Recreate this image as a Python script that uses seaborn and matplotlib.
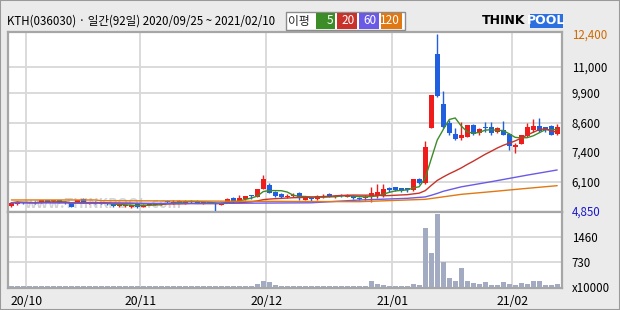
import numpy as np
import pandas as pd
import matplotlib
matplotlib.use("Agg")
import matplotlib.pyplot as plt
import seaborn as sns
from matplotlib.patches import Rectangle

sns.set_theme(style="white")
plt.rcParams['font.family'] = ['Noto Sans CJK KR', 'DejaVu Sans']

# ---------------- data ----------------
title = "KTH(036030) · 일간(92일) 2020/09/25 ~ 2021/02/10"

opens = [5080, 5130, 5220, 5210, 5230, 5200, 5300, 5260, 5320, 5250,
         5200, 5200, 5380, 5200, 5240, 5200, 5150, 5140, 5050, 5060,
         5010, 5130, 5030, 5120, 5110, 5150, 5260, 5150, 5190, 5180,
         5260, 5280, 5190, 5220, 5200, 5110, 5200, 5390, 5270, 5350,
         5500, 5460, 5790, 5960, 5670, 5560, 5430, 5510, 5600, 5320,
         5380, 5350, 5460, 5570, 5460, 5530, 5460, 5500, 5400, 5420,
         5460, 5490, 5500, 5850, 5860, 5820, 5820, 5750, 6200, 6030,
         8400, 11550, 9400, 8610, 8130, 7980, 8020, 8500, 8160, 8420,
         8420, 8230, 8300, 8130, 7600, 7690, 8060, 8300, 8490, 8420,
         8480, 8120]
highs = [5250, 5280, 5250, 5240, 5260, 5330, 5330, 5300, 5340, 5280,
         5230, 5320, 5420, 5240, 5260, 5230, 5180, 5160, 5150, 5120,
         5120, 5150, 5140, 5160, 5170, 5180, 5320, 5300, 5300, 5320,
         5320, 5300, 5230, 5250, 5230, 5220, 5420, 5460, 5530, 5500,
         5530, 5800, 6390, 6030, 5700, 5600, 5560, 5600, 5670, 5480,
         5430, 5520, 5580, 5600, 5530, 5560, 5560, 5530, 5430, 5520,
         5890, 6000, 6000, 5890, 5890, 5850, 5850, 6230, 6240, 7840,
         9800, 12400, 9970, 8730, 8370, 8630, 8520, 8560, 8410, 8650,
         8640, 8420, 8690, 8160, 7740, 8090, 8590, 8770, 8810, 8450,
         8510, 8560]
lows = [5030, 5100, 5150, 5170, 5150, 5180, 5220, 5230, 5180, 5150,
        5020, 5180, 5170, 5160, 5150, 5130, 5100, 5030, 5030, 5040,
        4990, 4990, 5010, 5100, 5100, 5120, 5200, 5130, 5170, 5160,
        5200, 5170, 5160, 5180, 4850, 5090, 5180, 5200, 5250, 5330,
        5350, 5430, 5790, 5600, 5460, 5420, 5390, 5430, 5320, 5300,
        5290, 5330, 5390, 5440, 5420, 5450, 5440, 5370, 5330, 5320,
        5250, 5390, 5460, 5670, 5720, 5680, 5680, 5720, 6000, 6000,
        8400, 9700, 8400, 8090, 7880, 7880, 7990, 8090, 8090, 8220,
        8090, 8160, 8090, 7450, 7340, 7690, 8010, 8240, 8240, 8230,
        8090, 8090]
closes = [5200, 5250, 5200, 5190, 5170, 5300, 5250, 5270, 5200, 5170,
          5040, 5300, 5200, 5210, 5170, 5150, 5140, 5050, 5130, 5100,
          5100, 5010, 5120, 5140, 5150, 5160, 5240, 5250, 5270, 5290,
          5240, 5180, 5220, 5200, 5130, 5200, 5360, 5250, 5420, 5490,
          5480, 5790, 6210, 5630, 5490, 5460, 5500, 5530, 5390, 5460,
          5360, 5490, 5480, 5460, 5500, 5510, 5540, 5390, 5380, 5440,
          5600, 5640, 5790, 5750, 5750, 5720, 5730, 6200, 6030, 7590,
          9800, 9750, 8450, 8170, 7920, 8090, 8520, 8130, 8350, 8400,
          8190, 8380, 8100, 7630, 7650, 8090, 8420, 8490, 8280, 8300,
          8110, 8430]
# volume in units of 10000 shares
volume = [25, 25, 25, 25, 25, 25, 25, 25, 25, 25,
          25, 25, 25, 25, 25, 25, 25, 25, 25, 25,
          25, 25, 25, 25, 25, 25, 25, 25, 25, 25,
          25, 25, 25, 25, 25, 25, 25, 25, 25, 25,
          25, 78, 175, 146, 49, 25, 25, 25, 25, 25,
          25, 25, 25, 25, 25, 25, 25, 25, 30, 25,
          175, 78, 49, 20, 20, 20, 20, 80, 50, 1730,
          980, 2130, 720, 260, 180, 560, 180, 110, 80, 140,
          50, 50, 140, 80, 50, 110, 80, 180, 180, 50,
          50, 80]

# long moving averages (index, value)
ma60_idx = [0, 30, 50, 58, 66, 69, 70, 71, 72, 75, 80, 86, 91]
ma60_val = [5200, 5170, 5200, 5318, 5390, 5450, 5520, 5600, 5690, 5880, 6100, 6380, 6600]
ma120_idx = [0, 14, 15, 45, 58, 69, 75, 80, 86, 91]
ma120_val = [5320, 5320, 5290, 5260, 5247, 5347, 5560, 5674, 5816, 5930]

month_labels = ["20/10", "20/11", "20/12", "21/01", "21/02"]
month_start_idx = [3, 22, 43, 64, 84]
price_ticks = [12400, 11000, 9900, 8600, 7400, 6100, 4850]
price_tick_labels = ["12,400", "11,000", "9,900", "8,600", "7,400", "6,100", "4,850"]
vol_ticks = [1460, 730, 0]
vol_tick_labels = ["1460", "730", "x10000"]
ma_labels = ["5", "20", "60", "120"]

# ---------------- styling ----------------
BG = "#ebebeb"
UP = "#f01c1c"
DOWN = "#1f5fe0"
VOLC = "#a3abc2"
GRID = "#d8d8d8"
FRAME = "#a6a6a6"
MA_COLORS = ["#3c8c28", "#c8322a", "#6a5ae6", "#e07814"]

W, H = 620, 310
fig = plt.figure(figsize=(6.2, 3.1), dpi=100, facecolor=BG)


def fx(px):
    return px / W


def fy(py):
    return 1 - py / H


ax = fig.add_axes([fx(8), fy(212), fx(554), 180 / H])
axv = fig.add_axes([fx(8), fy(288), fx(554), 76 / H], sharex=ax)

idx = np.arange(len(closes))
df = pd.DataFrame({"i": idx, "open": opens, "high": highs, "low": lows,
                   "close": closes, "volume": volume})
df["ma5"] = df["close"].rolling(5, min_periods=1).mean()
df["ma20"] = df["close"].rolling(20, min_periods=1).mean()

# ---- candles ----
for _, r in df.iterrows():
    up = r["close"] >= r["open"]
    c = UP if up else DOWN
    ax.vlines(r["i"], r["low"], r["high"], color=c, lw=1.0, zorder=3)
    lo = min(r["open"], r["close"])
    h = max(abs(r["close"] - r["open"]), 40)
    ax.bar(r["i"], h, bottom=lo, width=0.8, color=c, zorder=3, linewidth=0)

# ---- moving averages ----
sns.lineplot(x=df["i"], y=df["ma5"], ax=ax, color=MA_COLORS[0], lw=1.0, zorder=4, legend=False)
sns.lineplot(x=df["i"], y=df["ma20"], ax=ax, color=MA_COLORS[1], lw=1.0, zorder=4, legend=False)
sns.lineplot(x=ma60_idx, y=ma60_val, ax=ax, color=MA_COLORS[2], lw=1.0, zorder=4, legend=False)
sns.lineplot(x=ma120_idx, y=ma120_val, ax=ax, color=MA_COLORS[3], lw=1.0, zorder=4, legend=False)

# ---- volume ----
sns.barplot(x=df["i"], y=df["volume"], ax=axv, native_scale=True, color=VOLC,
            saturation=1, width=0.83, linewidth=0, zorder=3)

# ---- axes ----
xl = (-0.55, 91.8)
for a in (ax, axv):
    a.set_facecolor("white")
    a.set_xlim(*xl)
    a.set_xlabel("")
    a.set_ylabel("")
    a.set_xticks(np.array(month_start_idx) - 0.5)
    a.grid(False)
    for xv in np.array(month_start_idx) - 0.5:
        a.axvline(xv, color=GRID, lw=1.3, zorder=1)
    for s in a.spines.values():
        s.set_color(FRAME)
        s.set_linewidth(1.6)
    a.yaxis.tick_right()
    a.tick_params(axis="both", length=0, labelsize=8.3, colors="black")

ax.set_ylim(4807, 12485)
ax.set_yticks(price_ticks)
ax.set_yticklabels(price_tick_labels)
for pv in price_ticks[1:-1]:
    ax.axhline(pv, color=GRID, lw=1.3, zorder=1)
tl = ax.get_yticklabels()
tl[0].set_color("#d06a00")
tl[-1].set_color("#1a1acc")
ax.tick_params(axis="y", pad=7)
ax.tick_params(axis="x", labelbottom=False)

axv.set_ylim(-38, 2190)
axv.set_yticks(vol_ticks)
axv.set_yticklabels(vol_tick_labels)
for vv in vol_ticks[:-1]:
    axv.axhline(vv, color=GRID, lw=1.3, zorder=1)
axv.tick_params(axis="y", pad=7)
axv.set_xticklabels(month_labels)
axv.tick_params(axis="x", pad=5, labelsize=8.8)
axv.set_xlim(*xl)

# watermark
ax.text(0.03, 0.045, "www.THINKPOOL.com", transform=ax.transAxes, fontsize=10,
        fontweight="bold", color="#d4d4d4", zorder=2, va="center")

# ---- header ----
fig.text(fx(7), fy(21), title, fontsize=8.3, va="center", ha="left", color="black")

fig.add_artist(Rectangle((fx(286), fy(30)), fx(119), 18 / H, transform=fig.transFigure,
                         facecolor="white", edgecolor="#8c8c8c", lw=1))
fig.text(fx(299), fy(21), "이평", fontsize=8.5, va="center", ha="center")
boxes = [(316, 335), (337, 357), (359, 379), (381, 402)]
for (x0, x1), col, lab in zip(boxes, MA_COLORS, ma_labels):
    fig.add_artist(Rectangle((fx(x0), fy(29)), fx(x1 - x0), 16 / H, transform=fig.transFigure,
                             facecolor=col, edgecolor="none"))
    fig.text(fx(x1 - 2), fy(21), lab, fontsize=8.5, va="center", ha="right", color="white")

# logo
fig.text(fx(482), fy(21), "THINK", fontsize=9, fontweight="bold", va="center", ha="left",
         color="black", family="DejaVu Sans")
fig.add_artist(Rectangle((fx(530), fy(28)), fx(33), 14 / H, transform=fig.transFigure,
                         facecolor="#2b6fe0", edgecolor="none"))
fig.text(fx(546.5), fy(21), "POOL", fontsize=9, fontweight="bold", va="center", ha="center",
         color="white", family="DejaVu Sans")

# outer border
fig.add_artist(Rectangle((0, 0), 1, 1, transform=fig.transFigure, facecolor="none",
                         edgecolor="#9a9a9a", lw=1.5))

fig.savefig("out.png", dpi=100, facecolor=BG)
